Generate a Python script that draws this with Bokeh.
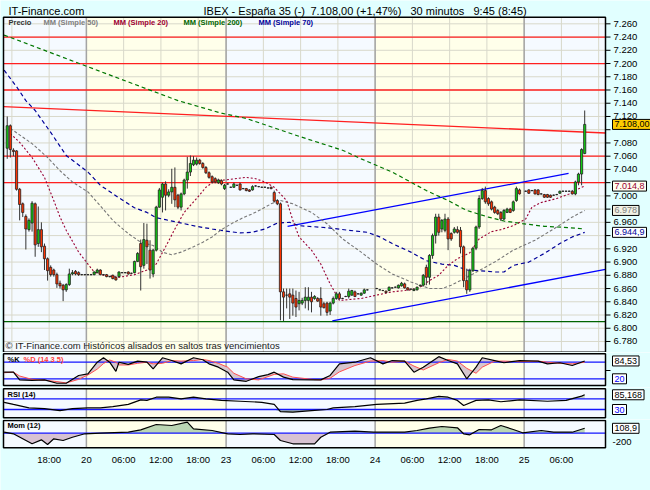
import numpy as np
from bokeh.plotting import figure
from bokeh.layouts import column
from bokeh.models import Range1d, Label
from bokeh.core.properties import value
from bokeh.embed import file_html
from bokeh.resources import INLINE

# ---------------- data (30-minute bars, slot index 0 = day 20, 00:00) ----------------
bars = list(range(-26, 91)) + list(range(93, 140)) + list(range(141, 161))
opens = [7072, 7106, 7069, 7068, 7010, 6988, 6969, 6949, 6959, 6988,
         6928, 6949, 6924, 6905, 6892, 6888, 6881, 6868, 6865, 6858,
         6866, 6882, 6886, 6884, 6881, 6881, 6881, 6881, 6881, 6884,
         6888, 6881, 6881, 6878, 6880, 6877, 6878, 6884, 6884, 6885,
         6883, 6884, 6901, 6928, 6895, 6933, 6918, 6882, 6918, 6983,
         6998, 7018, 7001, 7006, 7013, 7001, 6983, 7003, 7024, 7036,
         7047, 7048, 7054, 7049, 7043, 7035, 7029, 7026, 7020, 7023,
         7011, 7018, 7013, 7013, 7016, 7018, 7011, 7011, 7009, 7009,
         7015, 7014, 7013, 7013, 7012, 7013, 7005, 6993, 6988, 6855,
         6850, 6852, 6850, 6845, 6837, 6838, 6842, 6842, 6847, 6845,
         6845, 6845, 6837, 6838, 6826, 6838, 6845, 6852, 6845, 6848,
         6848, 6850, 6855, 6852, 6850, 6853, 6858,
         6860, 6858, 6857, 6856, 6857, 6861, 6862, 6861, 6864, 6867,
         6861, 6859, 6857, 6858, 6864, 6865, 6892, 6877, 6910, 6940,
         6968, 6950, 6948, 6965, 6943, 6945, 6949, 6948, 6923, 6872,
         6858, 6887, 6921, 6953, 6996, 7008, 6996, 6991, 6983, 6978,
         6975, 6965, 6975, 6980, 6978, 6993, 7009,
         7007, 7009, 7008, 7009, 7009, 7003, 7002, 7002, 7001, 7001,
         7002, 7004, 7007, 7007, 7007, 7007, 7003, 7021, 7033, 7064]
highs = [7120, 7108, 7072, 7069, 7012, 6990, 6972, 6966, 6992, 6990,
         6984, 6960, 6928, 6907, 6895, 6890, 6884, 6872, 6867, 6868,
         6890, 6888, 6888, 6886, 6882, 6882, 6882, 6882, 6886, 6890,
         6889, 6882, 6882, 6879, 6881, 6878, 6886, 6885, 6885, 6886,
         6884, 6902, 6915, 6934, 6959, 6958, 6933, 6920, 6985, 7012,
         7020, 7022, 7010, 7041, 7043, 7003, 7005, 7026, 7059, 7061,
         7060, 7058, 7056, 7051, 7045, 7037, 7031, 7028, 7026, 7025,
         7018, 7019, 7014, 7020, 7017, 7020, 7012, 7012, 7010, 7016,
         7016, 7015, 7014, 7014, 7013, 7014, 7008, 6995, 6990, 6860,
         6860, 6860, 6860, 6857, 6855, 6846, 6862, 6862, 6855, 6850,
         6847, 6862, 6840, 6840, 6840, 6848, 6855, 6855, 6846, 6849,
         6860, 6858, 6857, 6853, 6854, 6860, 6859,
         6861, 6859, 6858, 6857, 6863, 6862, 6863, 6866, 6870, 6869,
         6862, 6860, 6860, 6863, 6866, 6882, 6896, 6912, 6943, 6973,
         6973, 6965, 6973, 6968, 6945, 6953, 6954, 6953, 6925, 6890,
         6890, 6923, 6955, 7001, 7012, 7014, 6998, 6993, 6985, 6980,
         6977, 6980, 6982, 6982, 6993, 7014, 7011,
         7008, 7010, 7009, 7010, 7010, 7004, 7003, 7003, 7002, 7002,
         7003, 7008, 7008, 7008, 7008, 7009, 7023, 7035, 7072, 7129]
lows = [7056, 7058, 7060, 7008, 6963, 6968, 6919, 6946, 6946, 6908,
        6923, 6915, 6888, 6872, 6878, 6878, 6861, 6860, 6841, 6855,
        6864, 6880, 6880, 6879, 6880, 6880, 6880, 6880, 6880, 6883,
        6880, 6880, 6877, 6877, 6874, 6872, 6877, 6883, 6883, 6881,
        6882, 6883, 6900, 6857, 6890, 6897, 6875, 6877, 6916, 6982,
        6975, 6978, 6998, 6988, 6983, 6980, 6978, 7001, 7011, 7030,
        7045, 7046, 7047, 7041, 7033, 7026, 7019, 7019, 7018, 7016,
        7009, 7017, 7012, 7012, 7015, 7008, 7010, 7007, 7006, 7008,
        7014, 7013, 7012, 7012, 7011, 7010, 6990, 6986, 6812, 6811,
        6830, 6814, 6819, 6817, 6827, 6835, 6830, 6827, 6824, 6843,
        6840, 6819, 6830, 6819, 6820, 6836, 6843, 6843, 6844, 6847,
        6845, 6849, 6847, 6851, 6849, 6852, 6857,
        6859, 6857, 6856, 6853, 6856, 6860, 6861, 6860, 6863, 6860,
        6857, 6858, 6856, 6857, 6863, 6863, 6865, 6866, 6905, 6928,
        6940, 6945, 6945, 6918, 6932, 6943, 6943, 6913, 6862, 6852,
        6855, 6885, 6918, 6950, 6994, 6988, 6985, 6978, 6973, 6971,
        6962, 6963, 6974, 6974, 6976, 6991, 7002,
        7006, 7003, 7007, 7002, 7001, 7002, 6997, 6997, 6997, 7000,
        7001, 7003, 7006, 7006, 7006, 7002, 7001, 7016, 7016, 7063]
closes = [7106, 7070, 7067, 7010, 6987, 6975, 6950, 6963, 6989, 6926,
          6949, 6923, 6905, 6887, 6881, 6881, 6867, 6864, 6858, 6866,
          6882, 6884, 6882, 6881, 6881, 6881, 6881, 6881, 6885, 6888,
          6881, 6881, 6878, 6878, 6875, 6873, 6885, 6884, 6884, 6882,
          6883, 6901, 6913, 6893, 6934, 6923, 6888, 6918, 6983, 7009,
          7018, 7001, 7006, 7013, 6994, 6983, 7003, 7024, 7036, 7049,
          7054, 7054, 7049, 7043, 7035, 7028, 7021, 7021, 7024, 7018,
          7016, 7018, 7013, 7018, 7016, 7009, 7011, 7008, 7007, 7014,
          7015, 7014, 7013, 7013, 7012, 7011, 6992, 6988, 6855, 6847,
          6850, 6847, 6838, 6832, 6842, 6842, 6847, 6847, 6840, 6848,
          6841, 6832, 6831, 6824, 6838, 6845, 6852, 6845, 6845, 6848,
          6856, 6857, 6848, 6852, 6853, 6858, 6858,
          6860, 6858, 6857, 6854, 6862, 6861, 6862, 6865, 6868, 6861,
          6858, 6859, 6859, 6862, 6865, 6880, 6877, 6910, 6940, 6968,
          6945, 6963, 6965, 6935, 6935, 6950, 6945, 6923, 6872, 6858,
          6887, 6921, 6953, 6996, 7008, 6991, 6988, 6980, 6975, 6973,
          6965, 6978, 6980, 6975, 6991, 7011, 7003,
          7007, 7004, 7008, 7003, 7002, 7003, 6998, 6998, 6998, 7001,
          7002, 7007, 7007, 7007, 7007, 7003, 7021, 7033, 7070, 7108]

# moving averages (slot index, value)
ma20_x = [-25, -22, -18, -14, -11, -9, -7, -3, 0, 2, 5, 10, 15, 19, 22, 25, 28, 31, 35, 38,
          41, 44, 51, 54, 57, 60, 64, 66, 68, 72, 75, 78, 81, 88, 93, 98, 104, 107, 110, 113,
          116, 119, 123, 126, 130, 133, 137, 141, 143, 146, 151, 155, 159, 160]
ma20_y = [7094, 7081, 7058, 7028, 6993, 6968, 6948, 6915, 6897, 6885, 6880, 6877, 6881, 6888, 6897, 6923, 6950, 6975, 6996, 7013,
          7023, 7024, 7028, 7026, 7021, 7013, 6993, 6963, 6938, 6918, 6897, 6867, 6842, 6845, 6850, 6855, 6858, 6862, 6872, 6880,
          6895, 6905, 6914, 6935, 6946, 6949, 6955, 6965, 6983, 6990, 6996, 7003, 7013, 7014.8]
ma50_x = [-25, -18, -13, -9, -5, 0, 4, 8, 13, 17, 21, 24, 27, 30, 34, 37, 40, 43, 47, 50,
          53, 56, 59, 62, 66, 72, 77, 82, 88, 93, 98, 104, 107, 110, 114, 117, 120, 124, 131, 137,
          144, 150, 156, 160]
ma50_y = [7102, 7079, 7058, 7038, 7021, 7006, 6985, 6963, 6943, 6930, 6925, 6915, 6911, 6915, 6923, 6930, 6938, 6949, 6960, 6967,
          6973, 6980, 6988, 6993, 6988, 6975, 6958, 6935, 6915, 6897, 6882, 6870, 6865, 6860, 6860, 6865, 6872, 6882, 6900, 6918,
          6933, 6950, 6968, 6978]
ma70_x = [-27, -23, -20, -17, -12, -7, 0, 4, 10, 15, 19, 22, 25, 29, 35, 40, 44, 49, 53, 57,
          61, 65, 68, 77, 84, 90, 94, 98, 104, 109, 114, 118, 122, 126, 131, 134, 137, 142, 147, 152,
          156, 160]
ma70_y = [7190, 7165, 7144, 7129, 7096, 7061, 7036, 7016, 6997, 6982, 6975, 6967, 6964, 6960, 6954, 6950, 6947, 6944, 6945, 6950,
          6959, 6960, 6955, 6952, 6948, 6945, 6938, 6928, 6915, 6902, 6897, 6895, 6888, 6887, 6885, 6885, 6895, 6900, 6913, 6928,
          6938, 6944.9]
ma200_x = [-27, 4, 29, 43, 51, 68, 82, 88, 98, 109, 116, 122, 129, 134, 140, 147, 155, 160]
ma200_y = [7243, 7188, 7144, 7125, 7117, 7090, 7069, 7056, 7036, 7008, 6993, 6978, 6968, 6962, 6958, 6954, 6952, 6950]

# drawn lines (time units)
resist_x = [-26.7, 167.2]
resist_y = [7135, 7095]
chan_up_x = [64.8, 155.3]
chan_up_y = [6954, 7034]
chan_lo_x = [79.2, 167.2]
chan_lo_y = [6811, 6889]
red_levels = [7240, 7200, 7160, 7060, 7020]
green_levels = [6810]

# stochastic %K / %D (14 3 5)
sto_x = [-27, -24, -22, -18, -14, -10, -7, -3, 0, 3, 5, 7, 9, 10, 13, 16, 19, 21, 24, 27,
         30, 34, 37, 39, 42, 45, 47, 51, 55, 58, 60, 63, 66, 73, 75, 78, 81, 86, 91, 95,
         98, 102, 105, 108, 113, 116, 119, 122, 125, 127, 131, 134, 139, 145, 148, 152, 156, 160]
sto_k = [44, 44, 16, 14, 16, 4, 4, 32, 38, 80, 96, 80, 47, 80, 72, 84, 80, 56, 96, 86,
         74, 96, 89, 74, 62, 44, 16, 11, 28, 35, 44, 26, 17, 16, 16, 32, 74, 80, 96, 74,
         86, 84, 44, 62, 100, 86, 74, 20, 62, 96, 86, 78, 86, 84, 74, 78, 68, 84.53]
sto_d = [42, 44, 30, 18, 15, 10, 5, 18, 34, 55, 75, 88, 80, 70, 70, 76, 80, 74, 76, 86,
         84, 86, 90, 86, 76, 62, 40, 20, 16, 28, 36, 38, 26, 17, 16, 22, 45, 68, 84, 86,
         80, 84, 66, 52, 78, 90, 84, 58, 40, 62, 84, 84, 82, 84, 80, 76, 74, 80]
# RSI (14)
rsi_x = [-27, -24, -19, -14, -9, -5, 0, 4, 8, 13, 17, 19, 22, 26, 30, 34, 38, 43, 49, 56,
         60, 62, 66, 72, 77, 79, 86, 93, 102, 106, 109, 113, 116, 119, 121, 125, 129, 133, 139, 148,
         154, 159, 160]
rsi_y = [57, 49, 36, 33, 26, 33, 36, 36, 41, 49, 66, 64, 76, 76, 70, 76, 70, 64, 61, 57,
         49, 22, 20, 26, 30, 36, 41, 49, 54, 64, 70, 79, 76, 64, 45, 64, 66, 59, 66, 61,
         64, 80, 85.168]
# Momentum (12)
mom_x = [-27, -24, -21, -18, -15, -13, -11, -8, -5, -1, 4, 13, 17, 22, 27, 32, 34, 40, 45, 49,
         53, 60, 62, 66, 73, 75, 78, 86, 92, 102, 106, 110, 114, 119, 121, 123, 126, 130, 133, 137,
         140, 146, 150, 156, 160]
mom_y = [22, -13, -124, -235, -147, -251, -124, -162, -89, -13, 0, 22, 75, 193, 171, 244, 98, 60, -13, -29,
         -13, -29, -162, -235, -235, -89, 22, 44, 22, 22, 60, 111, 149, 120, -13, -36, 82, 75, 171, 82,
         9, 60, 22, 22, 108.9]

tick_pos = [-24, -12, 0, 12, 24, 36, 45, 57, 69, 81, 93, 105, 117, 129, 141, 153, 165]
tick_lab = ["", "18:00", "20", "06:00", "12:00", "18:00", "23", "06:00", "12:00", "18:00",
            "24", "06:00", "12:00", "18:00", "25", "06:00", ""]
day_bounds = [0, 45, 93, 141]
yellow_days = [(0, 45), (93, 141)]
price_ticks = list(range(6780, 7261, 20))
covered_ticks = [7100, 7020, 6980, 6940]   # hidden behind the value boxes

# ---------------- style / layout ----------------
FONT = "Liberation Sans"
PAGE_BG = "#E1FFFF"
DAY_A = "#F5FAFF"
DAY_B = "#FFFFEA"
GRID = "#D8D8CA"
DAYLINE = "#A4A4A4"
W = 650
PL, PR = 3, 605            # panel left/right in canvas pixels
X_LO, X_HI = -26.7, 167.2  # visible time span of the panels
ux = (X_HI - X_LO) / (PR - PL)
xr = Range1d(X_LO - PL * ux, X_HI + (W - PR) * ux)
half = 0.5


def make_panel(H, pt, pb, vlo, vhi):
    uy = (vhi - vlo) / (pb - pt)
    p = figure(width=W, height=H, x_range=xr, y_range=Range1d(vlo - (H - pb) * uy, vhi + pt * uy),
               toolbar_location=None, output_backend="svg", x_axis_location=None,
               y_axis_location=None, min_border=0)
    p.outline_line_color = None
    p.background_fill_color = PAGE_BG
    p.border_fill_color = PAGE_BG
    p.grid.visible = False
    p.quad(left=[X_LO], right=[X_HI], bottom=[vlo], top=[vhi], fill_color=DAY_A, line_color=None)
    p.quad(left=[a for a, b in yellow_days], right=[b for a, b in yellow_days],
           bottom=vlo, top=vhi, fill_color=DAY_B, line_color=None)
    return p, uy


def day_lines(p, vlo, vhi):
    p.segment(x0=day_bounds, y0=vlo, x1=day_bounds, y1=vhi, line_color=DAYLINE, line_width=1.5)


def outline(p, vlo, vhi):
    p.quad(left=[X_LO], right=[X_HI], bottom=[vlo], top=[vhi], fill_color=None,
           line_color="black", line_width=1.5)


def txt(p, x, y, s, color="black", size="11px", style="normal", baseline="middle"):
    p.add_layout(Label(x=x, y=y, x_units="screen", y_units="screen", text=s, text_color=color,
                       text_font=FONT, text_font_size=size, text_font_style=style,
                       text_baseline=baseline))


def box(p, y, s, color="black", bg="white", border="black"):
    p.add_layout(Label(x=612, y=y, x_units="screen", y_units="data", text=s, text_color=color,
                       text_font=FONT, text_font_size="9px", text_baseline="middle",
                       background_fill_color=bg, border_line_color=border, padding=2))


def fmt(v):
    return f"{v // 1000}.{v % 1000:03d}"


# ---------------- main price panel ----------------
P_LO, P_HI = 6763.8, 7270
p1, uy1 = make_panel(352, 16.7, 351.7, P_LO, P_HI)
gx = [t for t in tick_pos if X_LO < t < X_HI]
p1.segment(x0=gx, y0=P_LO, x1=gx, y1=P_HI, line_color=GRID, line_width=1)
p1.segment(x0=X_LO, y0=price_ticks, x1=X_HI, y1=price_ticks, line_color=GRID, line_width=1)
day_lines(p1, P_LO, P_HI)
p1.segment(x0=X_LO, y0=red_levels, x1=X_HI, y1=red_levels, line_color="#FF2020", line_width=1.3)
p1.segment(x0=X_LO, y0=green_levels, x1=X_HI, y1=green_levels, line_color="#006400", line_width=1.3)
p1.line(resist_x, resist_y, line_color="#FF2020", line_width=1.3)
p1.line(chan_up_x, chan_up_y, line_color="#0000FF", line_width=1.3)
p1.line(chan_lo_x, chan_lo_y, line_color="#0000FF", line_width=1.3)

p1.line([x + half for x in ma200_x], ma200_y, line_color="#007700", line_width=1.2, line_dash="4 3")
p1.line([x + half for x in ma70_x], ma70_y, line_color="#000099", line_width=1.2, line_dash="4 3")
p1.line([x + half for x in ma50_x], ma50_y, line_color="#777777", line_width=1.1, line_dash="3 2")
p1.line([x + half for x in ma20_x], ma20_y, line_color="#990033", line_width=1.1, line_dash="2 2")

xc = [b + half for b in bars]
tops = [max(o, c) for o, c in zip(opens, closes)]
bots = [min(o, c) for o, c in zip(opens, closes)]
cols = ["#11CC11" if c > o else ("#FF3300" if c < o else "#333333") for o, c in zip(opens, closes)]
p1.segment(xc, lows, xc, highs, line_color="#333333", line_width=1)
p1.vbar(x=xc, width=0.7, top=tops, bottom=bots, fill_color=cols, line_color="#222222", line_width=0.8)
outline(p1, P_LO, P_HI)

# right price axis
p1.segment(x0=X_HI, y0=price_ticks, x1=X_HI + 5 * ux, y1=price_ticks, line_color="black", line_width=1)
shown = [v for v in price_ticks if v not in covered_ticks]
p1.text(x=X_HI + 8 * ux, y=shown, text=[fmt(v) for v in shown], text_font=value(FONT),
        text_font_size=value("9.5px"), text_baseline="middle", text_align="left", text_color="black")

# header and inner texts (canvas pixels, y measured from the bottom)
txt(p1, 8, 342, "IT-Finance.com", baseline="alphabetic")
txt(p1, 203, 342, "IBEX - España 35 (-)", baseline="alphabetic")
txt(p1, 310, 342, "7.108,00 (+1,47%)", baseline="alphabetic")
txt(p1, 410, 342, "30 minutos", baseline="alphabetic")
txt(p1, 473, 342, "9:45 (8:45)", baseline="alphabetic")
txt(p1, 8, 330, "Precio", color="#333333", size="7.5px", style="bold")
txt(p1, 43, 330, "MM (Simple 50)", color="#808080", size="7.5px", style="bold")
txt(p1, 113, 330, "MM (Simple 20)", color="#A00030", size="7.5px", style="bold")
txt(p1, 183, 330, "MM (Simple 200)", color="#006600", size="7.5px", style="bold")
txt(p1, 258, 330, "MM (Simple 70)", color="#000099", size="7.5px", style="bold")
txt(p1, 5, 7, "© IT-Finance.com  Históricos alisados en saltos tras vencimientos",
    color="#222222", size="9.5px")

box(p1, 7108, "7.108,00", bg="#FFCC00")
box(p1, 7014.8, "7.014,8", color="#990033", bg="#FFFFF0")
box(p1, 6978, "6.978", color="#808080", bg="#F2F2E4")
box(p1, 6944.9, "6.944,9", color="#000099", bg="#FFFFFF")

# ---------------- stochastic panel ----------------
K_LO, K_HI = -4.2, 110.4
p2, _ = make_panel(35, 1.3, 33, K_LO, K_HI)
day_lines(p2, K_LO, K_HI)
sx = [x + half for x in sto_x]
p2.varea(x=sx, y1=sto_k, y2=sto_d, fill_color="#D6C6CE")
p2.segment(x0=X_LO, y0=[80, 20], x1=X_HI, y1=[80, 20], line_color="#1515FF", line_width=1.3)
p2.line(sx, sto_d, line_color="#FF5050", line_width=1)
p2.line(sx, sto_k, line_color="black", line_width=1.2)
outline(p2, K_LO, K_HI)
p2.segment(x0=[X_HI], y0=[50], x1=[X_HI + 5 * ux], y1=[50], line_color="black", line_width=1)
txt(p2, 7, 28, "%K", size="7.5px", style="bold")
txt(p2, 23, 28, "%D (14 3 5)", color="#FF4040", size="7.5px", style="bold")
p2.add_layout(Label(x=616, y=84.53, x_units="screen", text="84,35", text_color="#FF4040",
                    text_font=FONT, text_font_size="9px", text_baseline="middle"))
box(p2, 84.53, "84,53")
box(p2, 20, "20", color="#0000FF")

# ---------------- RSI panel ----------------
R_LO, R_HI = -1, 107.5
p3, _ = make_panel(32, 1.3, 30.3, R_LO, R_HI)
day_lines(p3, R_LO, R_HI)
rx = [x + half for x in rsi_x]
ry = np.array(rsi_y, dtype=float)
p3.varea(x=rx, y1=30, y2=np.minimum(ry, 30), fill_color="#A9C2A4")
p3.varea(x=rx, y1=70, y2=np.maximum(ry, 70), fill_color="#C9D4C4")
p3.segment(x0=X_LO, y0=[70, 30], x1=X_HI, y1=[70, 30], line_color="#1515FF", line_width=1.3)
p3.line(rx, rsi_y, line_color="black", line_width=1.2)
outline(p3, R_LO, R_HI)
txt(p3, 7, 25.5, "RSI (14)", size="7.5px", style="bold")
box(p3, 85.168, "85,168")
box(p3, 30, "30", color="#0000FF")

# ---------------- momentum panel ----------------
M_LO, M_HI = -324, 282
p4, uy4 = make_panel(71, 1, 28.3, M_LO, M_HI)
day_lines(p4, M_LO, M_HI)
mx = [x + half for x in mom_x]
my = np.array(mom_y, dtype=float)
p4.varea(x=mx, y1=0, y2=np.maximum(my, 0), fill_color="#BBD6B4")
p4.varea(x=mx, y1=0, y2=np.minimum(my, 0), fill_color="#D8C2D2")
p4.segment(x0=[X_LO], y0=[0], x1=[X_HI], y1=[0], line_color="#1515FF", line_width=1.3)
p4.line(mx, mom_y, line_color="black", line_width=1.2)
outline(p4, M_LO, M_HI)
txt(p4, 7, 64.7, "Mom (12)", size="7.5px", style="bold")
box(p4, 108.9, "108,9")
p4.add_layout(Label(x=612, y=-200, x_units="screen", text="-200", text_color="black",
                    text_font=FONT, text_font_size="9.5px", text_baseline="middle"))
# time axis labels below the momentum panel
lab_t = [t for t, s in zip(tick_pos, tick_lab) if s]
lab_s = [s for s in tick_lab if s]
p4.text(x=lab_t, y=M_HI - (40 - 1) * uy4, text=lab_s, text_font=value(FONT),
        text_font_size=value("9.5px"), text_baseline="middle", text_align="center", text_color="black")

layout = column(p1, p2, p3, p4, spacing=0)
open("out.html", "w").write(file_html(layout, INLINE))
